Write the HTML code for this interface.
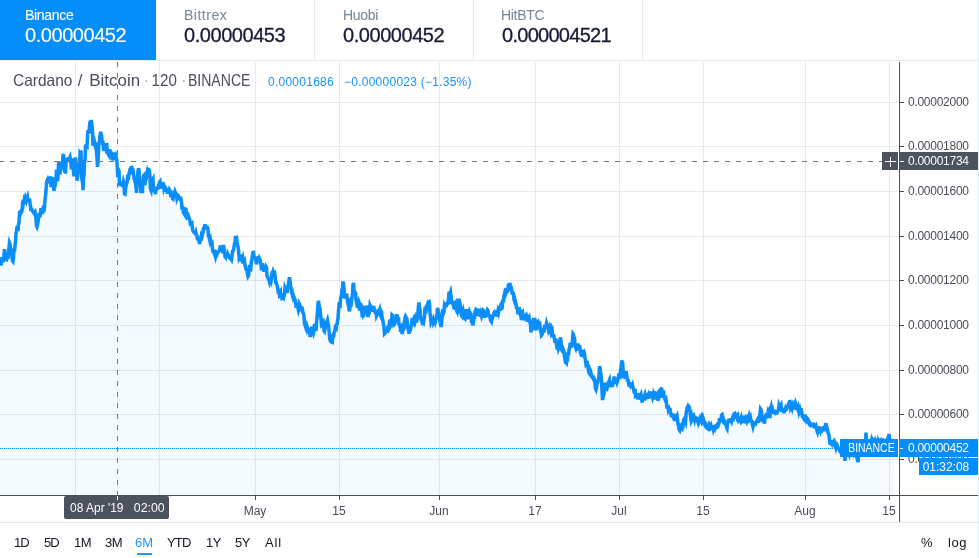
<!DOCTYPE html>
<html>
<head>
<meta charset="utf-8">
<title>Cardano / Bitcoin</title>
<style>
html,body{margin:0;padding:0;}
body{width:979px;height:558px;overflow:hidden;background:#fff;position:relative;font-family:"Liberation Sans",sans-serif;}
.abs{position:absolute;}
.tab .lbl,.tab .val,.lv,.tb,svg{will-change:transform;}
.tab{position:absolute;top:0;height:60px;box-sizing:border-box;}
.tab .lbl{position:absolute;top:6.5px;font-size:14px;letter-spacing:-0.3px;line-height:16px;color:#758696;white-space:nowrap;}
.tab .val{position:absolute;top:24px;font-size:20px;letter-spacing:-0.45px;line-height:22px;color:#161b33;-webkit-text-stroke:0.3px #161b33;white-space:nowrap;}
#t1{left:0;width:156px;background:#068dfc;}
#t1 .lbl,#t1 .val{color:#fff;-webkit-text-stroke:0.1px #fff;}
.vb{position:absolute;top:0;width:1px;height:60px;background:#e1ecf2;}
#legend{position:absolute;left:13px;top:70px;font-size:16.5px;line-height:20px;color:#4a4e5a;white-space:nowrap;transform-origin:0 0;transform:scaleX(0.92);}
.lv{position:absolute;top:74px;font-size:12px;letter-spacing:0.25px;line-height:16px;color:#1a92f5;white-space:nowrap;}
.tb{position:absolute;top:534.7px;font-size:13px;line-height:16px;color:#131722;white-space:nowrap;}
svg text{font-family:"Liberation Sans",sans-serif;}
</style>
</head>
<body>
<!-- exchange tabs -->
<div class="tab" id="t1"><div class="lbl" style="left:24.5px">Binance</div><div class="val" style="left:25px">0.00000452</div></div>
<div class="tab" style="left:156px;width:158px"><div class="lbl" style="left:28px;letter-spacing:0.5px">Bittrex</div><div class="val" style="left:28px">0.00000453</div></div>
<div class="tab" style="left:315px;width:158px"><div class="lbl" style="left:28px">Huobi</div><div class="val" style="left:28px">0.00000452</div></div>
<div class="tab" style="left:474px;width:168px"><div class="lbl" style="left:27px">HitBTC</div><div class="val" style="left:28px;letter-spacing:-0.72px">0.000004521</div></div>
<div class="vb" style="left:314px"></div>
<div class="vb" style="left:473px"></div>
<div class="vb" style="left:642px"></div>
<div class="abs" style="left:0;top:60px;width:979px;height:1px;background:#e3eaf0"></div>
<div class="abs" style="left:978px;top:0;width:1px;height:558px;background:#e3eaf0"></div>

<!-- chart -->
<svg class="abs" style="left:0;top:0" width="979" height="558" viewBox="0 0 979 558">
  <g id="grid" stroke="#e1ecf2" stroke-width="1" shape-rendering="crispEdges">
    <path d="M75.5,62V495 M159.5,62V495 M255.5,62V495 M339.5,62V495 M439.5,62V495 M535.5,62V495 M619.5,62V495 M703.5,62V495 M805.5,62V495 M889.5,62V495"/>
    <path d="M0,102.5H899 M0,146.5H899 M0,191.5H899 M0,236.5H899 M0,280.5H899 M0,325.5H899 M0,370.5H899 M0,414.5H899 M0,459.5H899"/>
  </g>
  <path d="M0.0,258.9 L0.5,262.1 L1.0,265.5 L1.5,261.8 L2.0,257.3 L2.5,259.3 L3.0,260.5 L3.5,262.1 L4.0,254.1 L4.5,249.3 L5.0,252.9 L5.5,254.8 L6.0,259.3 L6.5,259.5 L7.0,256.1 L7.5,254.1 L8.0,259.0 L8.5,252.7 L9.0,247.3 L9.5,242.7 L10.0,243.9 L10.5,247.9 L11.0,249.4 L11.5,252.5 L12.0,256.4 L12.5,260.9 L13.0,261.5 L13.5,257.9 L14.0,248.6 L14.5,251.9 L15.0,245.7 L15.5,241.8 L16.0,232.8 L16.5,231.3 L17.0,227.3 L17.5,227.0 L18.0,231.2 L18.5,224.5 L19.0,222.6 L19.5,213.4 L20.0,210.7 L20.5,213.2 L21.0,211.6 L21.5,211.9 L22.0,210.9 L22.5,204.5 L23.0,205.0 L23.5,199.4 L24.0,204.3 L24.5,199.2 L25.0,200.0 L25.5,197.7 L26.0,199.0 L26.5,194.9 L27.0,198.7 L27.5,197.2 L28.0,201.1 L28.5,201.1 L29.0,200.2 L29.5,198.4 L30.0,203.3 L30.5,205.5 L31.0,211.1 L31.5,208.2 L32.0,210.0 L32.5,211.3 L33.0,211.7 L33.5,212.3 L34.0,213.1 L34.5,212.3 L35.0,211.7 L35.5,214.3 L36.0,219.4 L36.5,225.6 L37.0,226.8 L37.5,224.9 L38.0,221.8 L38.5,218.9 L39.0,215.1 L39.5,215.3 L40.0,217.2 L40.5,212.1 L41.0,208.2 L41.5,214.3 L42.0,211.6 L42.5,212.3 L43.0,212.0 L43.5,205.4 L44.0,211.6 L44.5,207.1 L45.0,199.8 L45.5,196.1 L46.0,190.5 L46.5,182.9 L47.0,180.6 L47.5,179.6 L48.0,181.6 L48.5,181.1 L49.0,178.2 L49.5,181.2 L50.0,176.5 L50.5,182.0 L51.0,187.1 L51.5,185.3 L52.0,178.2 L52.5,178.4 L53.0,182.8 L53.5,185.9 L54.0,190.8 L54.5,182.3 L55.0,181.3 L55.5,182.4 L56.0,179.2 L56.5,169.6 L57.0,174.6 L57.5,181.1 L58.0,177.1 L58.5,164.3 L59.0,161.6 L59.5,163.7 L60.0,174.2 L60.5,170.0 L61.0,164.6 L61.5,169.4 L62.0,161.6 L62.5,166.9 L63.0,155.5 L63.5,154.0 L64.0,161.8 L64.5,170.8 L65.0,171.9 L65.5,171.9 L66.0,161.5 L66.5,161.4 L67.0,159.6 L67.5,157.9 L68.0,162.1 L68.5,157.4 L69.0,160.3 L69.5,158.0 L70.0,156.9 L70.5,159.9 L71.0,164.1 L71.5,169.4 L72.0,165.4 L72.5,165.5 L73.0,158.3 L73.5,171.4 L74.0,176.3 L74.5,169.2 L75.0,164.1 L75.5,157.4 L76.0,164.0 L76.5,168.0 L77.0,180.7 L77.5,177.5 L78.0,171.2 L78.5,163.0 L79.0,173.9 L79.5,169.0 L80.0,154.4 L80.5,155.4 L81.0,150.3 L81.5,176.0 L82.0,180.2 L82.5,181.5 L83.0,190.1 L83.5,179.1 L84.0,174.7 L84.5,159.5 L85.0,161.5 L85.5,146.0 L86.0,145.5 L86.5,146.4 L87.0,146.8 L87.5,137.1 L88.0,130.1 L88.5,132.8 L89.0,132.5 L89.5,125.9 L90.0,122.0 L90.5,121.5 L91.0,121.5 L91.5,121.5 L92.0,124.9 L92.5,130.7 L93.0,145.6 L93.5,143.8 L94.0,143.7 L94.5,142.2 L95.0,144.7 L95.5,143.8 L96.0,144.6 L96.5,151.6 L97.0,157.9 L97.5,166.8 L98.0,161.2 L98.5,151.7 L99.0,142.4 L99.5,139.8 L100.0,135.8 L100.5,133.3 L101.0,133.3 L101.5,135.2 L102.0,139.7 L102.5,142.7 L103.0,142.6 L103.5,147.7 L104.0,147.2 L104.5,148.3 L105.0,150.8 L105.5,147.2 L106.0,143.1 L106.5,148.4 L107.0,147.5 L107.5,152.5 L108.0,152.7 L108.5,154.8 L109.0,155.5 L109.5,149.1 L110.0,153.6 L110.5,152.5 L111.0,152.2 L111.5,153.2 L112.0,156.7 L112.5,158.8 L113.0,160.3 L113.5,154.4 L114.0,154.6 L114.5,152.5 L115.0,155.3 L115.5,158.4 L116.0,156.5 L116.5,158.3 L117.0,162.8 L117.5,171.3 L118.0,170.2 L118.5,170.0 L119.0,171.2 L119.5,182.7 L120.0,186.0 L120.5,183.0 L121.0,183.6 L121.5,183.9 L122.0,185.0 L122.5,184.6 L123.0,184.6 L123.5,181.6 L124.0,183.3 L124.5,193.7 L125.0,194.0 L125.5,189.9 L126.0,185.7 L126.5,183.8 L127.0,182.8 L127.5,178.2 L128.0,178.8 L128.5,178.5 L129.0,173.8 L129.5,171.5 L130.0,169.4 L130.5,167.9 L131.0,174.6 L131.5,165.9 L132.0,168.6 L132.5,168.9 L133.0,169.4 L133.5,172.8 L134.0,178.6 L134.5,179.4 L135.0,181.7 L135.5,183.0 L136.0,187.6 L136.5,192.8 L137.0,185.8 L137.5,177.6 L138.0,171.3 L138.5,168.2 L139.0,170.2 L139.5,181.2 L140.0,184.5 L140.5,185.0 L141.0,193.1 L141.5,189.0 L142.0,190.7 L142.5,190.9 L143.0,181.1 L143.5,176.0 L144.0,175.4 L144.5,181.6 L145.0,185.2 L145.5,176.3 L146.0,180.4 L146.5,176.0 L147.0,173.2 L147.5,170.7 L148.0,171.9 L148.5,168.1 L149.0,169.9 L149.5,171.0 L150.0,178.7 L150.5,189.2 L151.0,190.4 L151.5,185.3 L152.0,177.8 L152.5,179.9 L153.0,179.0 L153.5,190.4 L154.0,190.6 L154.5,186.7 L155.0,192.3 L155.5,194.0 L156.0,187.2 L156.5,189.2 L157.0,188.8 L157.5,188.6 L158.0,188.0 L158.5,184.9 L159.0,184.5 L159.5,182.3 L160.0,181.6 L160.5,187.1 L161.0,186.9 L161.5,187.1 L162.0,182.4 L162.5,183.9 L163.0,187.2 L163.5,183.8 L164.0,188.2 L164.5,186.8 L165.0,188.2 L165.5,187.9 L166.0,188.9 L166.5,192.0 L167.0,189.8 L167.5,193.8 L168.0,190.3 L168.5,188.6 L169.0,192.1 L169.5,189.7 L170.0,190.5 L170.5,194.2 L171.0,196.9 L171.5,191.1 L172.0,193.9 L172.5,198.6 L173.0,199.0 L173.5,196.0 L174.0,193.8 L174.5,193.7 L175.0,191.6 L175.5,192.9 L176.0,193.8 L176.5,194.8 L177.0,198.8 L177.5,197.6 L178.0,194.5 L178.5,199.4 L179.0,197.0 L179.5,197.7 L180.0,199.2 L180.5,199.7 L181.0,199.2 L181.5,201.8 L182.0,209.6 L182.5,207.3 L183.0,208.3 L183.5,212.5 L184.0,213.7 L184.5,214.4 L185.0,215.2 L185.5,209.1 L186.0,209.3 L186.5,212.0 L187.0,214.4 L187.5,217.6 L188.0,217.3 L188.5,216.3 L189.0,217.9 L189.5,218.9 L190.0,221.5 L190.5,224.6 L191.0,224.6 L191.5,224.0 L192.0,223.5 L192.5,228.2 L193.0,231.0 L193.5,231.8 L194.0,232.2 L194.5,232.8 L195.0,232.5 L195.5,235.0 L196.0,233.0 L196.5,235.1 L197.0,235.7 L197.5,240.2 L198.0,238.6 L198.5,239.2 L199.0,240.8 L199.5,243.9 L200.0,240.4 L200.5,238.5 L201.0,240.3 L201.5,235.6 L202.0,236.4 L202.5,233.5 L203.0,232.5 L203.5,227.1 L204.0,229.8 L204.5,227.2 L205.0,224.2 L205.5,229.1 L206.0,227.1 L206.5,226.9 L207.0,227.1 L207.5,227.2 L208.0,229.8 L208.5,236.1 L209.0,236.4 L209.5,239.2 L210.0,241.4 L210.5,239.8 L211.0,242.6 L211.5,243.3 L212.0,242.8 L212.5,248.6 L213.0,251.6 L213.5,252.3 L214.0,251.2 L214.5,249.7 L215.0,255.0 L215.5,256.9 L216.0,254.8 L216.5,257.2 L217.0,252.6 L217.5,253.0 L218.0,252.4 L218.5,251.5 L219.0,250.8 L219.5,250.6 L220.0,247.3 L220.5,247.5 L221.0,247.2 L221.5,247.6 L222.0,248.9 L222.5,250.2 L223.0,253.2 L223.5,244.8 L224.0,249.0 L224.5,250.0 L225.0,256.6 L225.5,257.2 L226.0,251.8 L226.5,254.8 L227.0,254.1 L227.5,257.8 L228.0,254.9 L228.5,256.2 L229.0,257.0 L229.5,257.8 L230.0,257.3 L230.5,254.8 L231.0,258.6 L231.5,259.5 L232.0,256.1 L232.5,251.2 L233.0,250.8 L233.5,250.2 L234.0,247.1 L234.5,243.7 L235.0,243.7 L235.5,235.9 L236.0,237.9 L236.5,237.6 L237.0,241.3 L237.5,244.3 L238.0,246.6 L238.5,249.7 L239.0,256.7 L239.5,255.5 L240.0,255.7 L240.5,261.2 L241.0,259.2 L241.5,254.8 L242.0,258.4 L242.5,257.3 L243.0,263.3 L243.5,260.4 L244.0,261.8 L244.5,260.9 L245.0,265.6 L245.5,266.0 L246.0,269.4 L246.5,270.2 L247.0,270.3 L247.5,274.3 L248.0,276.5 L248.5,275.7 L249.0,271.3 L249.5,267.5 L250.0,267.9 L250.5,271.7 L251.0,265.8 L251.5,261.1 L252.0,258.2 L252.5,254.8 L253.0,252.5 L253.5,252.4 L254.0,257.0 L254.5,257.7 L255.0,257.9 L255.5,256.4 L256.0,261.5 L256.5,264.3 L257.0,261.8 L257.5,258.3 L258.0,257.9 L258.5,258.9 L259.0,257.9 L259.5,259.2 L260.0,259.5 L260.5,262.4 L261.0,264.0 L261.5,270.4 L262.0,265.3 L262.5,265.2 L263.0,269.6 L263.5,268.0 L264.0,271.8 L264.5,270.1 L265.0,270.1 L265.5,269.0 L266.0,266.4 L266.5,267.1 L267.0,276.1 L267.5,276.7 L268.0,277.5 L268.5,279.4 L269.0,279.8 L269.5,281.8 L270.0,280.0 L270.5,280.0 L271.0,281.2 L271.5,277.6 L272.0,272.8 L272.5,272.7 L273.0,271.2 L273.5,272.7 L274.0,271.9 L274.5,272.0 L275.0,275.0 L275.5,282.2 L276.0,282.4 L276.5,284.1 L277.0,285.2 L277.5,287.2 L278.0,290.5 L278.5,293.9 L279.0,288.6 L279.5,294.6 L280.0,293.9 L280.5,292.7 L281.0,298.2 L281.5,295.1 L282.0,298.5 L282.5,298.3 L283.0,293.3 L283.5,295.0 L284.0,296.4 L284.5,294.5 L285.0,288.0 L285.5,289.2 L286.0,289.7 L286.5,287.2 L287.0,293.1 L287.5,289.6 L288.0,286.1 L288.5,283.5 L289.0,280.0 L289.5,277.3 L290.0,280.4 L290.5,285.4 L291.0,287.4 L291.5,291.3 L292.0,290.9 L292.5,295.5 L293.0,295.1 L293.5,298.0 L294.0,297.1 L294.5,298.4 L295.0,301.4 L295.5,299.1 L296.0,307.6 L296.5,305.4 L297.0,304.6 L297.5,302.9 L298.0,308.2 L298.5,310.4 L299.0,308.9 L299.5,304.3 L300.0,305.4 L300.5,309.3 L301.0,308.9 L301.5,307.7 L302.0,307.8 L302.5,309.5 L303.0,313.0 L303.5,313.5 L304.0,316.1 L304.5,323.6 L305.0,325.1 L305.5,321.2 L306.0,323.7 L306.5,325.0 L307.0,325.8 L307.5,329.8 L308.0,328.8 L308.5,329.1 L309.0,329.8 L309.5,331.5 L310.0,335.5 L310.5,335.5 L311.0,328.8 L311.5,328.3 L312.0,326.7 L312.5,330.8 L313.0,330.6 L313.5,332.5 L314.0,330.6 L314.5,324.0 L315.0,328.3 L315.5,329.6 L316.0,331.0 L316.5,322.4 L317.0,318.3 L317.5,310.7 L318.0,303.9 L318.5,300.7 L319.0,305.1 L319.5,307.1 L320.0,308.6 L320.5,313.9 L321.0,318.9 L321.5,325.3 L322.0,324.9 L322.5,318.7 L323.0,320.0 L323.5,324.8 L324.0,330.7 L324.5,331.4 L325.0,329.0 L325.5,327.2 L326.0,322.3 L326.5,321.8 L327.0,321.7 L327.5,320.1 L328.0,323.0 L328.5,325.3 L329.0,330.1 L329.5,337.1 L330.0,339.7 L330.5,341.3 L331.0,341.6 L331.5,338.3 L332.0,338.4 L332.5,339.4 L333.0,334.0 L333.5,337.5 L334.0,333.1 L334.5,332.2 L335.0,330.0 L335.5,324.8 L336.0,331.5 L336.5,323.6 L337.0,325.4 L337.5,320.6 L338.0,318.7 L338.5,310.8 L339.0,305.6 L339.5,306.2 L340.0,307.9 L340.5,299.4 L341.0,296.7 L341.5,296.5 L342.0,289.4 L342.5,288.4 L343.0,281.5 L343.5,283.8 L344.0,288.7 L344.5,295.6 L345.0,298.4 L345.5,295.3 L346.0,298.0 L346.5,293.6 L347.0,297.0 L347.5,301.3 L348.0,303.6 L348.5,302.8 L349.0,309.7 L349.5,311.3 L350.0,307.0 L350.5,304.2 L351.0,306.7 L351.5,300.8 L352.0,297.6 L352.5,292.9 L353.0,284.7 L353.5,282.9 L354.0,288.9 L354.5,292.6 L355.0,294.6 L355.5,291.5 L356.0,299.7 L356.5,302.3 L357.0,305.0 L357.5,307.6 L358.0,303.9 L358.5,302.3 L359.0,304.9 L359.5,310.6 L360.0,304.3 L360.5,305.5 L361.0,305.3 L361.5,308.9 L362.0,314.0 L362.5,313.4 L363.0,311.9 L363.5,315.7 L364.0,315.1 L364.5,309.6 L365.0,312.0 L365.5,308.3 L366.0,308.5 L366.5,305.5 L367.0,313.0 L367.5,311.7 L368.0,317.2 L368.5,310.3 L369.0,314.4 L369.5,310.9 L370.0,305.5 L370.5,306.7 L371.0,309.3 L371.5,307.3 L372.0,307.9 L372.5,310.3 L373.0,310.4 L373.5,306.0 L374.0,307.6 L374.5,310.6 L375.0,311.6 L375.5,313.8 L376.0,310.5 L376.5,315.7 L377.0,314.6 L377.5,312.7 L378.0,313.6 L378.5,313.4 L379.0,311.0 L379.5,309.7 L380.0,314.1 L380.5,315.3 L381.0,310.8 L381.5,311.6 L382.0,316.8 L382.5,319.0 L383.0,321.3 L383.5,324.1 L384.0,326.9 L384.5,333.7 L385.0,333.2 L385.5,332.2 L386.0,331.6 L386.5,331.4 L387.0,330.4 L387.5,330.7 L388.0,325.8 L388.5,327.4 L389.0,325.9 L389.5,321.0 L390.0,320.7 L390.5,325.9 L391.0,324.9 L391.5,321.0 L392.0,315.0 L392.5,315.5 L393.0,315.7 L393.5,317.8 L394.0,324.7 L394.5,324.3 L395.0,323.2 L395.5,319.8 L396.0,316.9 L396.5,316.2 L397.0,314.1 L397.5,320.1 L398.0,318.6 L398.5,318.6 L399.0,324.3 L399.5,325.5 L400.0,323.6 L400.5,330.2 L401.0,330.2 L401.5,328.7 L402.0,332.5 L402.5,332.4 L403.0,329.3 L403.5,329.6 L404.0,329.0 L404.5,323.6 L405.0,317.8 L405.5,316.2 L406.0,317.0 L406.5,319.8 L407.0,319.6 L407.5,323.6 L408.0,328.5 L408.5,330.7 L409.0,333.8 L409.5,327.4 L410.0,329.8 L410.5,329.8 L411.0,327.4 L411.5,324.1 L412.0,319.8 L412.5,319.9 L413.0,323.0 L413.5,320.8 L414.0,322.2 L414.5,319.9 L415.0,321.2 L415.5,318.6 L416.0,320.3 L416.5,319.2 L417.0,319.7 L417.5,317.2 L418.0,311.7 L418.5,305.6 L419.0,302.4 L419.5,307.8 L420.0,309.1 L420.5,315.0 L421.0,319.6 L421.5,320.9 L422.0,317.8 L422.5,322.2 L423.0,322.1 L423.5,322.7 L424.0,319.8 L424.5,316.5 L425.0,307.0 L425.5,309.8 L426.0,310.3 L426.5,304.8 L427.0,307.0 L427.5,304.9 L428.0,302.5 L428.5,301.6 L429.0,301.4 L429.5,303.6 L430.0,312.7 L430.5,316.4 L431.0,322.5 L431.5,321.4 L432.0,320.3 L432.5,319.9 L433.0,318.9 L433.5,322.9 L434.0,321.9 L434.5,323.6 L435.0,318.6 L435.5,321.0 L436.0,319.1 L436.5,318.2 L437.0,313.7 L437.5,307.9 L438.0,310.3 L438.5,311.9 L439.0,315.4 L439.5,316.9 L440.0,321.6 L440.5,323.9 L441.0,327.0 L441.5,324.2 L442.0,318.4 L442.5,312.0 L443.0,312.4 L443.5,313.1 L444.0,311.8 L444.5,305.4 L445.0,306.4 L445.5,306.4 L446.0,305.8 L446.5,305.6 L447.0,303.3 L447.5,303.3 L448.0,303.3 L448.5,298.6 L449.0,293.0 L449.5,292.8 L450.0,293.3 L450.5,291.9 L451.0,295.9 L451.5,302.5 L452.0,302.6 L452.5,303.5 L453.0,300.6 L453.5,304.9 L454.0,309.2 L454.5,306.4 L455.0,304.8 L455.5,303.8 L456.0,309.2 L456.5,310.4 L457.0,309.4 L457.5,310.9 L458.0,308.1 L458.5,304.5 L459.0,298.7 L459.5,302.9 L460.0,308.1 L460.5,307.2 L461.0,312.3 L461.5,315.6 L462.0,316.3 L462.5,312.3 L463.0,310.8 L463.5,314.4 L464.0,316.3 L464.5,317.8 L465.0,318.4 L465.5,315.6 L466.0,313.6 L466.5,309.1 L467.0,313.9 L467.5,319.3 L468.0,315.5 L468.5,313.9 L469.0,316.1 L469.5,316.5 L470.0,312.6 L470.5,313.8 L471.0,314.2 L471.5,323.1 L472.0,321.0 L472.5,323.9 L473.0,324.0 L473.5,321.0 L474.0,318.0 L474.5,317.7 L475.0,311.5 L475.5,310.8 L476.0,309.3 L476.5,309.6 L477.0,316.1 L477.5,309.2 L478.0,311.8 L478.5,308.6 L479.0,313.7 L479.5,316.0 L480.0,312.5 L480.5,316.9 L481.0,314.2 L481.5,316.0 L482.0,314.2 L482.5,311.1 L483.0,310.0 L483.5,310.5 L484.0,313.0 L484.5,313.1 L485.0,317.8 L485.5,315.0 L486.0,313.3 L486.5,312.2 L487.0,311.6 L487.5,309.9 L488.0,310.5 L488.5,315.7 L489.0,316.1 L489.5,316.0 L490.0,317.5 L490.5,320.3 L491.0,320.7 L491.5,321.5 L492.0,318.8 L492.5,318.2 L493.0,315.4 L493.5,315.2 L494.0,312.6 L494.5,311.9 L495.0,312.6 L495.5,312.8 L496.0,312.8 L496.5,312.2 L497.0,316.5 L497.5,314.3 L498.0,311.2 L498.5,312.7 L499.0,310.0 L499.5,308.6 L500.0,310.8 L500.5,307.1 L501.0,305.7 L501.5,307.6 L502.0,309.5 L502.5,302.7 L503.0,300.7 L503.5,302.3 L504.0,295.5 L504.5,294.0 L505.0,291.4 L505.5,291.6 L506.0,288.0 L506.5,292.1 L507.0,290.9 L507.5,291.0 L508.0,289.0 L508.5,283.8 L509.0,285.4 L509.5,283.0 L510.0,286.1 L510.5,285.5 L511.0,286.9 L511.5,288.2 L512.0,292.2 L512.5,294.7 L513.0,292.0 L513.5,293.9 L514.0,299.4 L514.5,301.1 L515.0,300.1 L515.5,302.4 L516.0,303.9 L516.5,307.9 L517.0,308.0 L517.5,309.4 L518.0,314.3 L518.5,309.6 L519.0,309.3 L519.5,308.9 L520.0,310.5 L520.5,315.4 L521.0,316.2 L521.5,319.9 L522.0,312.4 L522.5,311.9 L523.0,317.4 L523.5,318.8 L524.0,318.9 L524.5,318.8 L525.0,316.6 L525.5,315.4 L526.0,314.9 L526.5,317.4 L527.0,316.5 L527.5,317.8 L528.0,321.7 L528.5,317.4 L529.0,316.8 L529.5,321.2 L530.0,322.5 L530.5,324.5 L531.0,332.3 L531.5,329.6 L532.0,323.7 L532.5,323.3 L533.0,322.3 L533.5,318.0 L534.0,324.1 L534.5,329.2 L535.0,325.9 L535.5,330.4 L536.0,327.2 L536.5,323.3 L537.0,324.5 L537.5,322.0 L538.0,321.6 L538.5,323.3 L539.0,329.4 L539.5,321.5 L540.0,325.8 L540.5,330.8 L541.0,332.3 L541.5,335.4 L542.0,334.8 L542.5,332.8 L543.0,330.8 L543.5,327.9 L544.0,332.5 L544.5,327.2 L545.0,327.5 L545.5,326.6 L546.0,325.4 L546.5,323.0 L547.0,324.7 L547.5,326.6 L548.0,327.8 L548.5,330.4 L549.0,329.2 L549.5,327.6 L550.0,329.5 L550.5,331.4 L551.0,329.0 L551.5,327.0 L552.0,327.9 L552.5,334.1 L553.0,337.3 L553.5,334.5 L554.0,336.3 L554.5,339.5 L555.0,342.7 L555.5,339.7 L556.0,339.9 L556.5,344.7 L557.0,347.7 L557.5,349.4 L558.0,345.4 L558.5,348.5 L559.0,347.1 L559.5,344.2 L560.0,339.6 L560.5,337.4 L561.0,340.8 L561.5,348.6 L562.0,350.3 L562.5,351.4 L563.0,351.9 L563.5,350.2 L564.0,351.6 L564.5,357.0 L565.0,358.9 L565.5,362.4 L566.0,362.6 L566.5,363.2 L567.0,360.4 L567.5,360.1 L568.0,352.1 L568.5,355.7 L569.0,349.3 L569.5,349.0 L570.0,344.6 L570.5,344.6 L571.0,342.9 L571.5,347.5 L572.0,345.2 L572.5,338.9 L573.0,333.8 L573.5,334.5 L574.0,337.2 L574.5,338.1 L575.0,344.7 L575.5,346.9 L576.0,348.3 L576.5,346.8 L577.0,346.3 L577.5,346.5 L578.0,343.5 L578.5,348.5 L579.0,350.3 L579.5,345.2 L580.0,348.2 L580.5,352.6 L581.0,352.7 L581.5,356.5 L582.0,354.5 L582.5,355.0 L583.0,352.2 L583.5,352.6 L584.0,351.9 L584.5,353.2 L585.0,357.5 L585.5,360.7 L586.0,364.3 L586.5,363.6 L587.0,360.9 L587.5,364.3 L588.0,364.8 L588.5,371.1 L589.0,373.0 L589.5,373.7 L590.0,369.7 L590.5,370.8 L591.0,374.4 L591.5,374.6 L592.0,376.6 L592.5,377.6 L593.0,378.1 L593.5,379.1 L594.0,378.4 L594.5,379.7 L595.0,383.9 L595.5,388.7 L596.0,389.7 L596.5,387.7 L597.0,384.2 L597.5,382.5 L598.0,380.5 L598.5,379.3 L599.0,376.0 L599.5,366.3 L600.0,367.5 L600.5,371.4 L601.0,374.6 L601.5,381.9 L602.0,390.5 L602.5,400.1 L603.0,396.9 L603.5,395.6 L604.0,394.1 L604.5,389.5 L605.0,382.6 L605.5,386.2 L606.0,388.6 L606.5,388.2 L607.0,388.7 L607.5,386.7 L608.0,384.1 L608.5,384.5 L609.0,381.1 L609.5,379.9 L610.0,384.0 L610.5,385.1 L611.0,385.2 L611.5,381.5 L612.0,385.2 L612.5,386.9 L613.0,383.0 L613.5,381.9 L614.0,376.4 L614.5,379.9 L615.0,377.7 L615.5,380.6 L616.0,383.7 L616.5,380.7 L617.0,382.5 L617.5,381.1 L618.0,378.6 L618.5,376.5 L619.0,373.4 L619.5,377.4 L620.0,377.5 L620.5,369.9 L621.0,369.6 L621.5,363.3 L622.0,360.3 L622.5,369.5 L623.0,368.4 L623.5,376.6 L624.0,377.0 L624.5,376.3 L625.0,373.5 L625.5,372.8 L626.0,371.1 L626.5,374.4 L627.0,376.8 L627.5,381.2 L628.0,379.2 L628.5,382.9 L629.0,386.6 L629.5,384.5 L630.0,385.4 L630.5,383.7 L631.0,384.0 L631.5,386.2 L632.0,386.1 L632.5,384.9 L633.0,387.2 L633.5,389.4 L634.0,391.2 L634.5,393.7 L635.0,388.8 L635.5,396.2 L636.0,395.9 L636.5,394.6 L637.0,394.7 L637.5,397.1 L638.0,399.4 L638.5,397.1 L639.0,397.5 L639.5,392.9 L640.0,395.3 L640.5,395.4 L641.0,394.3 L641.5,397.5 L642.0,401.1 L642.5,400.9 L643.0,395.6 L643.5,400.2 L644.0,396.8 L644.5,396.3 L645.0,394.6 L645.5,396.7 L646.0,398.0 L646.5,397.4 L647.0,396.1 L647.5,395.7 L648.0,394.8 L648.5,398.6 L649.0,396.0 L649.5,396.0 L650.0,396.0 L650.5,394.4 L651.0,395.1 L651.5,391.6 L652.0,395.4 L652.5,397.3 L653.0,395.5 L653.5,399.6 L654.0,394.2 L654.5,395.4 L655.0,395.4 L655.5,392.8 L656.0,393.0 L656.5,396.7 L657.0,396.3 L657.5,397.0 L658.0,400.7 L658.5,398.3 L659.0,391.4 L659.5,390.8 L660.0,394.8 L660.5,393.5 L661.0,389.9 L661.5,387.6 L662.0,392.1 L662.5,397.8 L663.0,392.5 L663.5,390.3 L664.0,396.7 L664.5,397.5 L665.0,399.5 L665.5,400.7 L666.0,399.8 L666.5,403.8 L667.0,407.4 L667.5,407.9 L668.0,405.8 L668.5,410.0 L669.0,409.0 L669.5,411.1 L670.0,408.0 L670.5,411.8 L671.0,414.2 L671.5,417.2 L672.0,415.2 L672.5,415.9 L673.0,413.6 L673.5,417.2 L674.0,418.9 L674.5,420.8 L675.0,417.6 L675.5,414.0 L676.0,416.0 L676.5,416.8 L677.0,415.8 L677.5,419.6 L678.0,424.1 L678.5,425.5 L679.0,429.4 L679.5,430.1 L680.0,427.5 L680.5,428.6 L681.0,427.1 L681.5,428.5 L682.0,428.9 L682.5,425.8 L683.0,426.1 L683.5,419.9 L684.0,419.2 L684.5,423.4 L685.0,421.9 L685.5,422.8 L686.0,414.3 L686.5,411.4 L687.0,408.8 L687.5,409.4 L688.0,408.6 L688.5,405.9 L689.0,406.5 L689.5,408.6 L690.0,411.9 L690.5,416.4 L691.0,415.4 L691.5,421.0 L692.0,420.0 L692.5,415.3 L693.0,415.9 L693.5,415.4 L694.0,418.1 L694.5,419.8 L695.0,417.2 L695.5,419.7 L696.0,420.1 L696.5,418.6 L697.0,419.1 L697.5,420.7 L698.0,418.7 L698.5,417.0 L699.0,422.0 L699.5,420.8 L700.0,419.1 L700.5,420.9 L701.0,417.5 L701.5,419.6 L702.0,417.5 L702.5,419.1 L703.0,417.5 L703.5,418.9 L704.0,423.5 L704.5,423.4 L705.0,421.2 L705.5,427.3 L706.0,424.9 L706.5,428.9 L707.0,426.5 L707.5,423.5 L708.0,430.0 L708.5,427.6 L709.0,429.2 L709.5,430.9 L710.0,425.9 L710.5,426.9 L711.0,425.8 L711.5,428.2 L712.0,428.0 L712.5,425.2 L713.0,427.0 L713.5,429.6 L714.0,428.2 L714.5,428.9 L715.0,426.3 L715.5,425.9 L716.0,426.3 L716.5,425.6 L717.0,427.3 L717.5,426.9 L718.0,426.1 L718.5,424.9 L719.0,422.7 L719.5,418.1 L720.0,420.2 L720.5,421.9 L721.0,418.5 L721.5,415.1 L722.0,414.7 L722.5,419.5 L723.0,420.7 L723.5,419.6 L724.0,421.6 L724.5,421.4 L725.0,423.1 L725.5,422.9 L726.0,423.1 L726.5,427.8 L727.0,428.7 L727.5,422.8 L728.0,421.4 L728.5,421.8 L729.0,421.6 L729.5,418.9 L730.0,422.5 L730.5,418.1 L731.0,421.0 L731.5,421.9 L732.0,419.8 L732.5,418.1 L733.0,418.7 L733.5,419.0 L734.0,413.9 L734.5,413.6 L735.0,417.1 L735.5,417.2 L736.0,416.5 L736.5,414.7 L737.0,414.5 L737.5,414.2 L738.0,421.8 L738.5,416.6 L739.0,420.7 L739.5,420.2 L740.0,419.5 L740.5,419.2 L741.0,417.9 L741.5,422.1 L742.0,421.7 L742.5,420.4 L743.0,419.9 L743.5,420.5 L744.0,417.9 L744.5,418.2 L745.0,417.6 L745.5,420.1 L746.0,421.0 L746.5,415.7 L747.0,417.1 L747.5,420.6 L748.0,417.2 L748.5,416.0 L749.0,420.5 L749.5,420.0 L750.0,419.2 L750.5,417.8 L751.0,420.7 L751.5,420.8 L752.0,423.0 L752.5,424.9 L753.0,426.9 L753.5,424.9 L754.0,423.4 L754.5,423.8 L755.0,423.5 L755.5,423.8 L756.0,422.2 L756.5,421.7 L757.0,420.4 L757.5,419.5 L758.0,420.5 L758.5,422.9 L759.0,418.6 L759.5,416.4 L760.0,412.9 L760.5,408.7 L761.0,409.4 L761.5,411.5 L762.0,417.5 L762.5,422.0 L763.0,419.3 L763.5,421.0 L764.0,421.4 L764.5,423.5 L765.0,416.8 L765.5,416.0 L766.0,416.3 L766.5,413.1 L767.0,416.3 L767.5,415.8 L768.0,412.5 L768.5,409.8 L769.0,410.3 L769.5,416.6 L770.0,416.6 L770.5,408.1 L771.0,406.6 L771.5,410.5 L772.0,410.7 L772.5,409.7 L773.0,412.2 L773.5,412.2 L774.0,412.7 L774.5,413.0 L775.0,409.7 L775.5,413.4 L776.0,410.9 L776.5,413.2 L777.0,413.1 L777.5,411.3 L778.0,410.7 L778.5,409.9 L779.0,405.4 L779.5,406.7 L780.0,409.0 L780.5,405.2 L781.0,404.5 L781.5,409.9 L782.0,411.9 L782.5,407.6 L783.0,410.4 L783.5,410.7 L784.0,413.1 L784.5,411.0 L785.0,410.2 L785.5,408.5 L786.0,409.8 L786.5,409.5 L787.0,407.9 L787.5,407.4 L788.0,405.9 L788.5,408.0 L789.0,404.8 L789.5,401.8 L790.0,401.7 L790.5,406.7 L791.0,405.4 L791.5,407.5 L792.0,408.8 L792.5,406.6 L793.0,408.5 L793.5,408.3 L794.0,406.8 L794.5,404.7 L795.0,405.7 L795.5,403.5 L796.0,405.1 L796.5,405.3 L797.0,407.9 L797.5,409.0 L798.0,407.5 L798.5,410.4 L799.0,412.7 L799.5,411.3 L800.0,409.5 L800.5,411.5 L801.0,408.5 L801.5,410.4 L802.0,413.7 L802.5,417.7 L803.0,415.2 L803.5,418.1 L804.0,419.3 L804.5,419.8 L805.0,414.5 L805.5,418.2 L806.0,418.6 L806.5,420.4 L807.0,419.6 L807.5,418.7 L808.0,419.3 L808.5,422.8 L809.0,423.6 L809.5,422.5 L810.0,423.4 L810.5,425.0 L811.0,425.6 L811.5,425.2 L812.0,424.4 L812.5,424.3 L813.0,425.1 L813.5,425.7 L814.0,424.6 L814.5,425.0 L815.0,428.5 L815.5,426.8 L816.0,425.9 L816.5,427.7 L817.0,431.0 L817.5,432.3 L818.0,430.2 L818.5,428.3 L819.0,428.4 L819.5,427.9 L820.0,428.3 L820.5,430.4 L821.0,428.7 L821.5,428.5 L822.0,429.3 L822.5,430.1 L823.0,429.3 L823.5,429.0 L824.0,427.3 L824.5,426.7 L825.0,428.0 L825.5,426.8 L826.0,423.1 L826.5,427.5 L827.0,427.5 L827.5,429.4 L828.0,433.1 L828.5,433.5 L829.0,435.1 L829.5,440.0 L830.0,443.3 L830.5,443.6 L831.0,441.3 L831.5,441.5 L832.0,442.9 L832.5,441.0 L833.0,444.7 L833.5,443.0 L834.0,444.1 L834.5,442.7 L835.0,444.6 L835.5,445.2 L836.0,447.4 L836.5,445.5 L837.0,446.6 L837.5,450.0 L838.0,447.4 L838.5,448.6 L839.0,449.5 L839.5,448.8 L840.0,449.0 L840.5,451.7 L841.0,452.7 L841.5,452.6 L842.0,452.3 L842.5,450.2 L843.0,451.1 L843.5,454.2 L844.0,454.6 L844.5,451.5 L845.0,461.0 L845.5,450.1 L846.0,451.5 L846.5,451.0 L847.0,451.0 L847.5,452.0 L848.0,453.2 L848.5,452.7 L849.0,453.9 L849.5,450.5 L850.0,451.7 L850.5,452.3 L851.0,449.8 L851.5,452.7 L852.0,450.0 L852.5,449.0 L853.0,454.6 L853.5,455.1 L854.0,454.2 L854.5,455.3 L855.0,455.6 L855.5,452.5 L856.0,453.6 L856.5,455.6 L857.0,454.3 L857.5,454.3 L858.0,462.5 L858.5,454.3 L859.0,452.5 L859.5,451.4 L860.0,449.7 L860.5,448.8 L861.0,449.6 L861.5,449.9 L862.0,448.3 L862.5,446.1 L863.0,446.7 L863.5,446.4 L864.0,447.0 L864.5,444.2 L865.0,442.5 L865.5,442.5 L866.0,432.5 L866.5,442.5 L867.0,442.3 L867.5,441.3 L868.0,441.5 L868.5,443.6 L869.0,444.4 L869.5,445.3 L870.0,441.7 L870.5,443.5 L871.0,441.8 L871.5,443.1 L872.0,439.8 L872.5,441.1 L873.0,440.6 L873.5,443.4 L874.0,443.0 L874.5,444.4 L875.0,442.5 L875.5,445.0 L876.0,442.7 L876.5,445.0 L877.0,442.8 L877.5,441.1 L878.0,443.1 L878.5,442.2 L879.0,442.3 L879.5,440.3 L880.0,440.7 L880.5,441.5 L881.0,440.6 L881.5,441.7 L882.0,438.6 L882.5,441.6 L883.0,441.1 L883.5,443.6 L884.0,442.2 L884.5,441.1 L885.0,441.0 L885.5,441.8 L886.0,442.5 L886.5,441.2 L887.0,440.0 L887.5,441.2 L888.0,442.2 L888.5,438.6 L889.0,434.0 L889.5,438.4 L890.0,442.8 L890.5,444.5 L891.0,444.6 L891.5,444.4 L892.0,442.2 L892.5,444.8 L893.0,443.9 L895,495 L0,495 Z" fill="#2196f3" fill-opacity="0.048" stroke="none"/>
  <path d="M0.0,258.9 L0.5,262.1 L1.0,265.5 L1.5,261.8 L2.0,257.3 L2.5,259.3 L3.0,260.5 L3.5,262.1 L4.0,254.1 L4.5,249.3 L5.0,252.9 L5.5,254.8 L6.0,259.3 L6.5,259.5 L7.0,256.1 L7.5,254.1 L8.0,259.0 L8.5,252.7 L9.0,247.3 L9.5,242.7 L10.0,243.9 L10.5,247.9 L11.0,249.4 L11.5,252.5 L12.0,256.4 L12.5,260.9 L13.0,261.5 L13.5,257.9 L14.0,248.6 L14.5,251.9 L15.0,245.7 L15.5,241.8 L16.0,232.8 L16.5,231.3 L17.0,227.3 L17.5,227.0 L18.0,231.2 L18.5,224.5 L19.0,222.6 L19.5,213.4 L20.0,210.7 L20.5,213.2 L21.0,211.6 L21.5,211.9 L22.0,210.9 L22.5,204.5 L23.0,205.0 L23.5,199.4 L24.0,204.3 L24.5,199.2 L25.0,200.0 L25.5,197.7 L26.0,199.0 L26.5,194.9 L27.0,198.7 L27.5,197.2 L28.0,201.1 L28.5,201.1 L29.0,200.2 L29.5,198.4 L30.0,203.3 L30.5,205.5 L31.0,211.1 L31.5,208.2 L32.0,210.0 L32.5,211.3 L33.0,211.7 L33.5,212.3 L34.0,213.1 L34.5,212.3 L35.0,211.7 L35.5,214.3 L36.0,219.4 L36.5,225.6 L37.0,226.8 L37.5,224.9 L38.0,221.8 L38.5,218.9 L39.0,215.1 L39.5,215.3 L40.0,217.2 L40.5,212.1 L41.0,208.2 L41.5,214.3 L42.0,211.6 L42.5,212.3 L43.0,212.0 L43.5,205.4 L44.0,211.6 L44.5,207.1 L45.0,199.8 L45.5,196.1 L46.0,190.5 L46.5,182.9 L47.0,180.6 L47.5,179.6 L48.0,181.6 L48.5,181.1 L49.0,178.2 L49.5,181.2 L50.0,176.5 L50.5,182.0 L51.0,187.1 L51.5,185.3 L52.0,178.2 L52.5,178.4 L53.0,182.8 L53.5,185.9 L54.0,190.8 L54.5,182.3 L55.0,181.3 L55.5,182.4 L56.0,179.2 L56.5,169.6 L57.0,174.6 L57.5,181.1 L58.0,177.1 L58.5,164.3 L59.0,161.6 L59.5,163.7 L60.0,174.2 L60.5,170.0 L61.0,164.6 L61.5,169.4 L62.0,161.6 L62.5,166.9 L63.0,155.5 L63.5,154.0 L64.0,161.8 L64.5,170.8 L65.0,171.9 L65.5,171.9 L66.0,161.5 L66.5,161.4 L67.0,159.6 L67.5,157.9 L68.0,162.1 L68.5,157.4 L69.0,160.3 L69.5,158.0 L70.0,156.9 L70.5,159.9 L71.0,164.1 L71.5,169.4 L72.0,165.4 L72.5,165.5 L73.0,158.3 L73.5,171.4 L74.0,176.3 L74.5,169.2 L75.0,164.1 L75.5,157.4 L76.0,164.0 L76.5,168.0 L77.0,180.7 L77.5,177.5 L78.0,171.2 L78.5,163.0 L79.0,173.9 L79.5,169.0 L80.0,154.4 L80.5,155.4 L81.0,150.3 L81.5,176.0 L82.0,180.2 L82.5,181.5 L83.0,190.1 L83.5,179.1 L84.0,174.7 L84.5,159.5 L85.0,161.5 L85.5,146.0 L86.0,145.5 L86.5,146.4 L87.0,146.8 L87.5,137.1 L88.0,130.1 L88.5,132.8 L89.0,132.5 L89.5,125.9 L90.0,122.0 L90.5,121.5 L91.0,121.5 L91.5,121.5 L92.0,124.9 L92.5,130.7 L93.0,145.6 L93.5,143.8 L94.0,143.7 L94.5,142.2 L95.0,144.7 L95.5,143.8 L96.0,144.6 L96.5,151.6 L97.0,157.9 L97.5,166.8 L98.0,161.2 L98.5,151.7 L99.0,142.4 L99.5,139.8 L100.0,135.8 L100.5,133.3 L101.0,133.3 L101.5,135.2 L102.0,139.7 L102.5,142.7 L103.0,142.6 L103.5,147.7 L104.0,147.2 L104.5,148.3 L105.0,150.8 L105.5,147.2 L106.0,143.1 L106.5,148.4 L107.0,147.5 L107.5,152.5 L108.0,152.7 L108.5,154.8 L109.0,155.5 L109.5,149.1 L110.0,153.6 L110.5,152.5 L111.0,152.2 L111.5,153.2 L112.0,156.7 L112.5,158.8 L113.0,160.3 L113.5,154.4 L114.0,154.6 L114.5,152.5 L115.0,155.3 L115.5,158.4 L116.0,156.5 L116.5,158.3 L117.0,162.8 L117.5,171.3 L118.0,170.2 L118.5,170.0 L119.0,171.2 L119.5,182.7 L120.0,186.0 L120.5,183.0 L121.0,183.6 L121.5,183.9 L122.0,185.0 L122.5,184.6 L123.0,184.6 L123.5,181.6 L124.0,183.3 L124.5,193.7 L125.0,194.0 L125.5,189.9 L126.0,185.7 L126.5,183.8 L127.0,182.8 L127.5,178.2 L128.0,178.8 L128.5,178.5 L129.0,173.8 L129.5,171.5 L130.0,169.4 L130.5,167.9 L131.0,174.6 L131.5,165.9 L132.0,168.6 L132.5,168.9 L133.0,169.4 L133.5,172.8 L134.0,178.6 L134.5,179.4 L135.0,181.7 L135.5,183.0 L136.0,187.6 L136.5,192.8 L137.0,185.8 L137.5,177.6 L138.0,171.3 L138.5,168.2 L139.0,170.2 L139.5,181.2 L140.0,184.5 L140.5,185.0 L141.0,193.1 L141.5,189.0 L142.0,190.7 L142.5,190.9 L143.0,181.1 L143.5,176.0 L144.0,175.4 L144.5,181.6 L145.0,185.2 L145.5,176.3 L146.0,180.4 L146.5,176.0 L147.0,173.2 L147.5,170.7 L148.0,171.9 L148.5,168.1 L149.0,169.9 L149.5,171.0 L150.0,178.7 L150.5,189.2 L151.0,190.4 L151.5,185.3 L152.0,177.8 L152.5,179.9 L153.0,179.0 L153.5,190.4 L154.0,190.6 L154.5,186.7 L155.0,192.3 L155.5,194.0 L156.0,187.2 L156.5,189.2 L157.0,188.8 L157.5,188.6 L158.0,188.0 L158.5,184.9 L159.0,184.5 L159.5,182.3 L160.0,181.6 L160.5,187.1 L161.0,186.9 L161.5,187.1 L162.0,182.4 L162.5,183.9 L163.0,187.2 L163.5,183.8 L164.0,188.2 L164.5,186.8 L165.0,188.2 L165.5,187.9 L166.0,188.9 L166.5,192.0 L167.0,189.8 L167.5,193.8 L168.0,190.3 L168.5,188.6 L169.0,192.1 L169.5,189.7 L170.0,190.5 L170.5,194.2 L171.0,196.9 L171.5,191.1 L172.0,193.9 L172.5,198.6 L173.0,199.0 L173.5,196.0 L174.0,193.8 L174.5,193.7 L175.0,191.6 L175.5,192.9 L176.0,193.8 L176.5,194.8 L177.0,198.8 L177.5,197.6 L178.0,194.5 L178.5,199.4 L179.0,197.0 L179.5,197.7 L180.0,199.2 L180.5,199.7 L181.0,199.2 L181.5,201.8 L182.0,209.6 L182.5,207.3 L183.0,208.3 L183.5,212.5 L184.0,213.7 L184.5,214.4 L185.0,215.2 L185.5,209.1 L186.0,209.3 L186.5,212.0 L187.0,214.4 L187.5,217.6 L188.0,217.3 L188.5,216.3 L189.0,217.9 L189.5,218.9 L190.0,221.5 L190.5,224.6 L191.0,224.6 L191.5,224.0 L192.0,223.5 L192.5,228.2 L193.0,231.0 L193.5,231.8 L194.0,232.2 L194.5,232.8 L195.0,232.5 L195.5,235.0 L196.0,233.0 L196.5,235.1 L197.0,235.7 L197.5,240.2 L198.0,238.6 L198.5,239.2 L199.0,240.8 L199.5,243.9 L200.0,240.4 L200.5,238.5 L201.0,240.3 L201.5,235.6 L202.0,236.4 L202.5,233.5 L203.0,232.5 L203.5,227.1 L204.0,229.8 L204.5,227.2 L205.0,224.2 L205.5,229.1 L206.0,227.1 L206.5,226.9 L207.0,227.1 L207.5,227.2 L208.0,229.8 L208.5,236.1 L209.0,236.4 L209.5,239.2 L210.0,241.4 L210.5,239.8 L211.0,242.6 L211.5,243.3 L212.0,242.8 L212.5,248.6 L213.0,251.6 L213.5,252.3 L214.0,251.2 L214.5,249.7 L215.0,255.0 L215.5,256.9 L216.0,254.8 L216.5,257.2 L217.0,252.6 L217.5,253.0 L218.0,252.4 L218.5,251.5 L219.0,250.8 L219.5,250.6 L220.0,247.3 L220.5,247.5 L221.0,247.2 L221.5,247.6 L222.0,248.9 L222.5,250.2 L223.0,253.2 L223.5,244.8 L224.0,249.0 L224.5,250.0 L225.0,256.6 L225.5,257.2 L226.0,251.8 L226.5,254.8 L227.0,254.1 L227.5,257.8 L228.0,254.9 L228.5,256.2 L229.0,257.0 L229.5,257.8 L230.0,257.3 L230.5,254.8 L231.0,258.6 L231.5,259.5 L232.0,256.1 L232.5,251.2 L233.0,250.8 L233.5,250.2 L234.0,247.1 L234.5,243.7 L235.0,243.7 L235.5,235.9 L236.0,237.9 L236.5,237.6 L237.0,241.3 L237.5,244.3 L238.0,246.6 L238.5,249.7 L239.0,256.7 L239.5,255.5 L240.0,255.7 L240.5,261.2 L241.0,259.2 L241.5,254.8 L242.0,258.4 L242.5,257.3 L243.0,263.3 L243.5,260.4 L244.0,261.8 L244.5,260.9 L245.0,265.6 L245.5,266.0 L246.0,269.4 L246.5,270.2 L247.0,270.3 L247.5,274.3 L248.0,276.5 L248.5,275.7 L249.0,271.3 L249.5,267.5 L250.0,267.9 L250.5,271.7 L251.0,265.8 L251.5,261.1 L252.0,258.2 L252.5,254.8 L253.0,252.5 L253.5,252.4 L254.0,257.0 L254.5,257.7 L255.0,257.9 L255.5,256.4 L256.0,261.5 L256.5,264.3 L257.0,261.8 L257.5,258.3 L258.0,257.9 L258.5,258.9 L259.0,257.9 L259.5,259.2 L260.0,259.5 L260.5,262.4 L261.0,264.0 L261.5,270.4 L262.0,265.3 L262.5,265.2 L263.0,269.6 L263.5,268.0 L264.0,271.8 L264.5,270.1 L265.0,270.1 L265.5,269.0 L266.0,266.4 L266.5,267.1 L267.0,276.1 L267.5,276.7 L268.0,277.5 L268.5,279.4 L269.0,279.8 L269.5,281.8 L270.0,280.0 L270.5,280.0 L271.0,281.2 L271.5,277.6 L272.0,272.8 L272.5,272.7 L273.0,271.2 L273.5,272.7 L274.0,271.9 L274.5,272.0 L275.0,275.0 L275.5,282.2 L276.0,282.4 L276.5,284.1 L277.0,285.2 L277.5,287.2 L278.0,290.5 L278.5,293.9 L279.0,288.6 L279.5,294.6 L280.0,293.9 L280.5,292.7 L281.0,298.2 L281.5,295.1 L282.0,298.5 L282.5,298.3 L283.0,293.3 L283.5,295.0 L284.0,296.4 L284.5,294.5 L285.0,288.0 L285.5,289.2 L286.0,289.7 L286.5,287.2 L287.0,293.1 L287.5,289.6 L288.0,286.1 L288.5,283.5 L289.0,280.0 L289.5,277.3 L290.0,280.4 L290.5,285.4 L291.0,287.4 L291.5,291.3 L292.0,290.9 L292.5,295.5 L293.0,295.1 L293.5,298.0 L294.0,297.1 L294.5,298.4 L295.0,301.4 L295.5,299.1 L296.0,307.6 L296.5,305.4 L297.0,304.6 L297.5,302.9 L298.0,308.2 L298.5,310.4 L299.0,308.9 L299.5,304.3 L300.0,305.4 L300.5,309.3 L301.0,308.9 L301.5,307.7 L302.0,307.8 L302.5,309.5 L303.0,313.0 L303.5,313.5 L304.0,316.1 L304.5,323.6 L305.0,325.1 L305.5,321.2 L306.0,323.7 L306.5,325.0 L307.0,325.8 L307.5,329.8 L308.0,328.8 L308.5,329.1 L309.0,329.8 L309.5,331.5 L310.0,335.5 L310.5,335.5 L311.0,328.8 L311.5,328.3 L312.0,326.7 L312.5,330.8 L313.0,330.6 L313.5,332.5 L314.0,330.6 L314.5,324.0 L315.0,328.3 L315.5,329.6 L316.0,331.0 L316.5,322.4 L317.0,318.3 L317.5,310.7 L318.0,303.9 L318.5,300.7 L319.0,305.1 L319.5,307.1 L320.0,308.6 L320.5,313.9 L321.0,318.9 L321.5,325.3 L322.0,324.9 L322.5,318.7 L323.0,320.0 L323.5,324.8 L324.0,330.7 L324.5,331.4 L325.0,329.0 L325.5,327.2 L326.0,322.3 L326.5,321.8 L327.0,321.7 L327.5,320.1 L328.0,323.0 L328.5,325.3 L329.0,330.1 L329.5,337.1 L330.0,339.7 L330.5,341.3 L331.0,341.6 L331.5,338.3 L332.0,338.4 L332.5,339.4 L333.0,334.0 L333.5,337.5 L334.0,333.1 L334.5,332.2 L335.0,330.0 L335.5,324.8 L336.0,331.5 L336.5,323.6 L337.0,325.4 L337.5,320.6 L338.0,318.7 L338.5,310.8 L339.0,305.6 L339.5,306.2 L340.0,307.9 L340.5,299.4 L341.0,296.7 L341.5,296.5 L342.0,289.4 L342.5,288.4 L343.0,281.5 L343.5,283.8 L344.0,288.7 L344.5,295.6 L345.0,298.4 L345.5,295.3 L346.0,298.0 L346.5,293.6 L347.0,297.0 L347.5,301.3 L348.0,303.6 L348.5,302.8 L349.0,309.7 L349.5,311.3 L350.0,307.0 L350.5,304.2 L351.0,306.7 L351.5,300.8 L352.0,297.6 L352.5,292.9 L353.0,284.7 L353.5,282.9 L354.0,288.9 L354.5,292.6 L355.0,294.6 L355.5,291.5 L356.0,299.7 L356.5,302.3 L357.0,305.0 L357.5,307.6 L358.0,303.9 L358.5,302.3 L359.0,304.9 L359.5,310.6 L360.0,304.3 L360.5,305.5 L361.0,305.3 L361.5,308.9 L362.0,314.0 L362.5,313.4 L363.0,311.9 L363.5,315.7 L364.0,315.1 L364.5,309.6 L365.0,312.0 L365.5,308.3 L366.0,308.5 L366.5,305.5 L367.0,313.0 L367.5,311.7 L368.0,317.2 L368.5,310.3 L369.0,314.4 L369.5,310.9 L370.0,305.5 L370.5,306.7 L371.0,309.3 L371.5,307.3 L372.0,307.9 L372.5,310.3 L373.0,310.4 L373.5,306.0 L374.0,307.6 L374.5,310.6 L375.0,311.6 L375.5,313.8 L376.0,310.5 L376.5,315.7 L377.0,314.6 L377.5,312.7 L378.0,313.6 L378.5,313.4 L379.0,311.0 L379.5,309.7 L380.0,314.1 L380.5,315.3 L381.0,310.8 L381.5,311.6 L382.0,316.8 L382.5,319.0 L383.0,321.3 L383.5,324.1 L384.0,326.9 L384.5,333.7 L385.0,333.2 L385.5,332.2 L386.0,331.6 L386.5,331.4 L387.0,330.4 L387.5,330.7 L388.0,325.8 L388.5,327.4 L389.0,325.9 L389.5,321.0 L390.0,320.7 L390.5,325.9 L391.0,324.9 L391.5,321.0 L392.0,315.0 L392.5,315.5 L393.0,315.7 L393.5,317.8 L394.0,324.7 L394.5,324.3 L395.0,323.2 L395.5,319.8 L396.0,316.9 L396.5,316.2 L397.0,314.1 L397.5,320.1 L398.0,318.6 L398.5,318.6 L399.0,324.3 L399.5,325.5 L400.0,323.6 L400.5,330.2 L401.0,330.2 L401.5,328.7 L402.0,332.5 L402.5,332.4 L403.0,329.3 L403.5,329.6 L404.0,329.0 L404.5,323.6 L405.0,317.8 L405.5,316.2 L406.0,317.0 L406.5,319.8 L407.0,319.6 L407.5,323.6 L408.0,328.5 L408.5,330.7 L409.0,333.8 L409.5,327.4 L410.0,329.8 L410.5,329.8 L411.0,327.4 L411.5,324.1 L412.0,319.8 L412.5,319.9 L413.0,323.0 L413.5,320.8 L414.0,322.2 L414.5,319.9 L415.0,321.2 L415.5,318.6 L416.0,320.3 L416.5,319.2 L417.0,319.7 L417.5,317.2 L418.0,311.7 L418.5,305.6 L419.0,302.4 L419.5,307.8 L420.0,309.1 L420.5,315.0 L421.0,319.6 L421.5,320.9 L422.0,317.8 L422.5,322.2 L423.0,322.1 L423.5,322.7 L424.0,319.8 L424.5,316.5 L425.0,307.0 L425.5,309.8 L426.0,310.3 L426.5,304.8 L427.0,307.0 L427.5,304.9 L428.0,302.5 L428.5,301.6 L429.0,301.4 L429.5,303.6 L430.0,312.7 L430.5,316.4 L431.0,322.5 L431.5,321.4 L432.0,320.3 L432.5,319.9 L433.0,318.9 L433.5,322.9 L434.0,321.9 L434.5,323.6 L435.0,318.6 L435.5,321.0 L436.0,319.1 L436.5,318.2 L437.0,313.7 L437.5,307.9 L438.0,310.3 L438.5,311.9 L439.0,315.4 L439.5,316.9 L440.0,321.6 L440.5,323.9 L441.0,327.0 L441.5,324.2 L442.0,318.4 L442.5,312.0 L443.0,312.4 L443.5,313.1 L444.0,311.8 L444.5,305.4 L445.0,306.4 L445.5,306.4 L446.0,305.8 L446.5,305.6 L447.0,303.3 L447.5,303.3 L448.0,303.3 L448.5,298.6 L449.0,293.0 L449.5,292.8 L450.0,293.3 L450.5,291.9 L451.0,295.9 L451.5,302.5 L452.0,302.6 L452.5,303.5 L453.0,300.6 L453.5,304.9 L454.0,309.2 L454.5,306.4 L455.0,304.8 L455.5,303.8 L456.0,309.2 L456.5,310.4 L457.0,309.4 L457.5,310.9 L458.0,308.1 L458.5,304.5 L459.0,298.7 L459.5,302.9 L460.0,308.1 L460.5,307.2 L461.0,312.3 L461.5,315.6 L462.0,316.3 L462.5,312.3 L463.0,310.8 L463.5,314.4 L464.0,316.3 L464.5,317.8 L465.0,318.4 L465.5,315.6 L466.0,313.6 L466.5,309.1 L467.0,313.9 L467.5,319.3 L468.0,315.5 L468.5,313.9 L469.0,316.1 L469.5,316.5 L470.0,312.6 L470.5,313.8 L471.0,314.2 L471.5,323.1 L472.0,321.0 L472.5,323.9 L473.0,324.0 L473.5,321.0 L474.0,318.0 L474.5,317.7 L475.0,311.5 L475.5,310.8 L476.0,309.3 L476.5,309.6 L477.0,316.1 L477.5,309.2 L478.0,311.8 L478.5,308.6 L479.0,313.7 L479.5,316.0 L480.0,312.5 L480.5,316.9 L481.0,314.2 L481.5,316.0 L482.0,314.2 L482.5,311.1 L483.0,310.0 L483.5,310.5 L484.0,313.0 L484.5,313.1 L485.0,317.8 L485.5,315.0 L486.0,313.3 L486.5,312.2 L487.0,311.6 L487.5,309.9 L488.0,310.5 L488.5,315.7 L489.0,316.1 L489.5,316.0 L490.0,317.5 L490.5,320.3 L491.0,320.7 L491.5,321.5 L492.0,318.8 L492.5,318.2 L493.0,315.4 L493.5,315.2 L494.0,312.6 L494.5,311.9 L495.0,312.6 L495.5,312.8 L496.0,312.8 L496.5,312.2 L497.0,316.5 L497.5,314.3 L498.0,311.2 L498.5,312.7 L499.0,310.0 L499.5,308.6 L500.0,310.8 L500.5,307.1 L501.0,305.7 L501.5,307.6 L502.0,309.5 L502.5,302.7 L503.0,300.7 L503.5,302.3 L504.0,295.5 L504.5,294.0 L505.0,291.4 L505.5,291.6 L506.0,288.0 L506.5,292.1 L507.0,290.9 L507.5,291.0 L508.0,289.0 L508.5,283.8 L509.0,285.4 L509.5,283.0 L510.0,286.1 L510.5,285.5 L511.0,286.9 L511.5,288.2 L512.0,292.2 L512.5,294.7 L513.0,292.0 L513.5,293.9 L514.0,299.4 L514.5,301.1 L515.0,300.1 L515.5,302.4 L516.0,303.9 L516.5,307.9 L517.0,308.0 L517.5,309.4 L518.0,314.3 L518.5,309.6 L519.0,309.3 L519.5,308.9 L520.0,310.5 L520.5,315.4 L521.0,316.2 L521.5,319.9 L522.0,312.4 L522.5,311.9 L523.0,317.4 L523.5,318.8 L524.0,318.9 L524.5,318.8 L525.0,316.6 L525.5,315.4 L526.0,314.9 L526.5,317.4 L527.0,316.5 L527.5,317.8 L528.0,321.7 L528.5,317.4 L529.0,316.8 L529.5,321.2 L530.0,322.5 L530.5,324.5 L531.0,332.3 L531.5,329.6 L532.0,323.7 L532.5,323.3 L533.0,322.3 L533.5,318.0 L534.0,324.1 L534.5,329.2 L535.0,325.9 L535.5,330.4 L536.0,327.2 L536.5,323.3 L537.0,324.5 L537.5,322.0 L538.0,321.6 L538.5,323.3 L539.0,329.4 L539.5,321.5 L540.0,325.8 L540.5,330.8 L541.0,332.3 L541.5,335.4 L542.0,334.8 L542.5,332.8 L543.0,330.8 L543.5,327.9 L544.0,332.5 L544.5,327.2 L545.0,327.5 L545.5,326.6 L546.0,325.4 L546.5,323.0 L547.0,324.7 L547.5,326.6 L548.0,327.8 L548.5,330.4 L549.0,329.2 L549.5,327.6 L550.0,329.5 L550.5,331.4 L551.0,329.0 L551.5,327.0 L552.0,327.9 L552.5,334.1 L553.0,337.3 L553.5,334.5 L554.0,336.3 L554.5,339.5 L555.0,342.7 L555.5,339.7 L556.0,339.9 L556.5,344.7 L557.0,347.7 L557.5,349.4 L558.0,345.4 L558.5,348.5 L559.0,347.1 L559.5,344.2 L560.0,339.6 L560.5,337.4 L561.0,340.8 L561.5,348.6 L562.0,350.3 L562.5,351.4 L563.0,351.9 L563.5,350.2 L564.0,351.6 L564.5,357.0 L565.0,358.9 L565.5,362.4 L566.0,362.6 L566.5,363.2 L567.0,360.4 L567.5,360.1 L568.0,352.1 L568.5,355.7 L569.0,349.3 L569.5,349.0 L570.0,344.6 L570.5,344.6 L571.0,342.9 L571.5,347.5 L572.0,345.2 L572.5,338.9 L573.0,333.8 L573.5,334.5 L574.0,337.2 L574.5,338.1 L575.0,344.7 L575.5,346.9 L576.0,348.3 L576.5,346.8 L577.0,346.3 L577.5,346.5 L578.0,343.5 L578.5,348.5 L579.0,350.3 L579.5,345.2 L580.0,348.2 L580.5,352.6 L581.0,352.7 L581.5,356.5 L582.0,354.5 L582.5,355.0 L583.0,352.2 L583.5,352.6 L584.0,351.9 L584.5,353.2 L585.0,357.5 L585.5,360.7 L586.0,364.3 L586.5,363.6 L587.0,360.9 L587.5,364.3 L588.0,364.8 L588.5,371.1 L589.0,373.0 L589.5,373.7 L590.0,369.7 L590.5,370.8 L591.0,374.4 L591.5,374.6 L592.0,376.6 L592.5,377.6 L593.0,378.1 L593.5,379.1 L594.0,378.4 L594.5,379.7 L595.0,383.9 L595.5,388.7 L596.0,389.7 L596.5,387.7 L597.0,384.2 L597.5,382.5 L598.0,380.5 L598.5,379.3 L599.0,376.0 L599.5,366.3 L600.0,367.5 L600.5,371.4 L601.0,374.6 L601.5,381.9 L602.0,390.5 L602.5,400.1 L603.0,396.9 L603.5,395.6 L604.0,394.1 L604.5,389.5 L605.0,382.6 L605.5,386.2 L606.0,388.6 L606.5,388.2 L607.0,388.7 L607.5,386.7 L608.0,384.1 L608.5,384.5 L609.0,381.1 L609.5,379.9 L610.0,384.0 L610.5,385.1 L611.0,385.2 L611.5,381.5 L612.0,385.2 L612.5,386.9 L613.0,383.0 L613.5,381.9 L614.0,376.4 L614.5,379.9 L615.0,377.7 L615.5,380.6 L616.0,383.7 L616.5,380.7 L617.0,382.5 L617.5,381.1 L618.0,378.6 L618.5,376.5 L619.0,373.4 L619.5,377.4 L620.0,377.5 L620.5,369.9 L621.0,369.6 L621.5,363.3 L622.0,360.3 L622.5,369.5 L623.0,368.4 L623.5,376.6 L624.0,377.0 L624.5,376.3 L625.0,373.5 L625.5,372.8 L626.0,371.1 L626.5,374.4 L627.0,376.8 L627.5,381.2 L628.0,379.2 L628.5,382.9 L629.0,386.6 L629.5,384.5 L630.0,385.4 L630.5,383.7 L631.0,384.0 L631.5,386.2 L632.0,386.1 L632.5,384.9 L633.0,387.2 L633.5,389.4 L634.0,391.2 L634.5,393.7 L635.0,388.8 L635.5,396.2 L636.0,395.9 L636.5,394.6 L637.0,394.7 L637.5,397.1 L638.0,399.4 L638.5,397.1 L639.0,397.5 L639.5,392.9 L640.0,395.3 L640.5,395.4 L641.0,394.3 L641.5,397.5 L642.0,401.1 L642.5,400.9 L643.0,395.6 L643.5,400.2 L644.0,396.8 L644.5,396.3 L645.0,394.6 L645.5,396.7 L646.0,398.0 L646.5,397.4 L647.0,396.1 L647.5,395.7 L648.0,394.8 L648.5,398.6 L649.0,396.0 L649.5,396.0 L650.0,396.0 L650.5,394.4 L651.0,395.1 L651.5,391.6 L652.0,395.4 L652.5,397.3 L653.0,395.5 L653.5,399.6 L654.0,394.2 L654.5,395.4 L655.0,395.4 L655.5,392.8 L656.0,393.0 L656.5,396.7 L657.0,396.3 L657.5,397.0 L658.0,400.7 L658.5,398.3 L659.0,391.4 L659.5,390.8 L660.0,394.8 L660.5,393.5 L661.0,389.9 L661.5,387.6 L662.0,392.1 L662.5,397.8 L663.0,392.5 L663.5,390.3 L664.0,396.7 L664.5,397.5 L665.0,399.5 L665.5,400.7 L666.0,399.8 L666.5,403.8 L667.0,407.4 L667.5,407.9 L668.0,405.8 L668.5,410.0 L669.0,409.0 L669.5,411.1 L670.0,408.0 L670.5,411.8 L671.0,414.2 L671.5,417.2 L672.0,415.2 L672.5,415.9 L673.0,413.6 L673.5,417.2 L674.0,418.9 L674.5,420.8 L675.0,417.6 L675.5,414.0 L676.0,416.0 L676.5,416.8 L677.0,415.8 L677.5,419.6 L678.0,424.1 L678.5,425.5 L679.0,429.4 L679.5,430.1 L680.0,427.5 L680.5,428.6 L681.0,427.1 L681.5,428.5 L682.0,428.9 L682.5,425.8 L683.0,426.1 L683.5,419.9 L684.0,419.2 L684.5,423.4 L685.0,421.9 L685.5,422.8 L686.0,414.3 L686.5,411.4 L687.0,408.8 L687.5,409.4 L688.0,408.6 L688.5,405.9 L689.0,406.5 L689.5,408.6 L690.0,411.9 L690.5,416.4 L691.0,415.4 L691.5,421.0 L692.0,420.0 L692.5,415.3 L693.0,415.9 L693.5,415.4 L694.0,418.1 L694.5,419.8 L695.0,417.2 L695.5,419.7 L696.0,420.1 L696.5,418.6 L697.0,419.1 L697.5,420.7 L698.0,418.7 L698.5,417.0 L699.0,422.0 L699.5,420.8 L700.0,419.1 L700.5,420.9 L701.0,417.5 L701.5,419.6 L702.0,417.5 L702.5,419.1 L703.0,417.5 L703.5,418.9 L704.0,423.5 L704.5,423.4 L705.0,421.2 L705.5,427.3 L706.0,424.9 L706.5,428.9 L707.0,426.5 L707.5,423.5 L708.0,430.0 L708.5,427.6 L709.0,429.2 L709.5,430.9 L710.0,425.9 L710.5,426.9 L711.0,425.8 L711.5,428.2 L712.0,428.0 L712.5,425.2 L713.0,427.0 L713.5,429.6 L714.0,428.2 L714.5,428.9 L715.0,426.3 L715.5,425.9 L716.0,426.3 L716.5,425.6 L717.0,427.3 L717.5,426.9 L718.0,426.1 L718.5,424.9 L719.0,422.7 L719.5,418.1 L720.0,420.2 L720.5,421.9 L721.0,418.5 L721.5,415.1 L722.0,414.7 L722.5,419.5 L723.0,420.7 L723.5,419.6 L724.0,421.6 L724.5,421.4 L725.0,423.1 L725.5,422.9 L726.0,423.1 L726.5,427.8 L727.0,428.7 L727.5,422.8 L728.0,421.4 L728.5,421.8 L729.0,421.6 L729.5,418.9 L730.0,422.5 L730.5,418.1 L731.0,421.0 L731.5,421.9 L732.0,419.8 L732.5,418.1 L733.0,418.7 L733.5,419.0 L734.0,413.9 L734.5,413.6 L735.0,417.1 L735.5,417.2 L736.0,416.5 L736.5,414.7 L737.0,414.5 L737.5,414.2 L738.0,421.8 L738.5,416.6 L739.0,420.7 L739.5,420.2 L740.0,419.5 L740.5,419.2 L741.0,417.9 L741.5,422.1 L742.0,421.7 L742.5,420.4 L743.0,419.9 L743.5,420.5 L744.0,417.9 L744.5,418.2 L745.0,417.6 L745.5,420.1 L746.0,421.0 L746.5,415.7 L747.0,417.1 L747.5,420.6 L748.0,417.2 L748.5,416.0 L749.0,420.5 L749.5,420.0 L750.0,419.2 L750.5,417.8 L751.0,420.7 L751.5,420.8 L752.0,423.0 L752.5,424.9 L753.0,426.9 L753.5,424.9 L754.0,423.4 L754.5,423.8 L755.0,423.5 L755.5,423.8 L756.0,422.2 L756.5,421.7 L757.0,420.4 L757.5,419.5 L758.0,420.5 L758.5,422.9 L759.0,418.6 L759.5,416.4 L760.0,412.9 L760.5,408.7 L761.0,409.4 L761.5,411.5 L762.0,417.5 L762.5,422.0 L763.0,419.3 L763.5,421.0 L764.0,421.4 L764.5,423.5 L765.0,416.8 L765.5,416.0 L766.0,416.3 L766.5,413.1 L767.0,416.3 L767.5,415.8 L768.0,412.5 L768.5,409.8 L769.0,410.3 L769.5,416.6 L770.0,416.6 L770.5,408.1 L771.0,406.6 L771.5,410.5 L772.0,410.7 L772.5,409.7 L773.0,412.2 L773.5,412.2 L774.0,412.7 L774.5,413.0 L775.0,409.7 L775.5,413.4 L776.0,410.9 L776.5,413.2 L777.0,413.1 L777.5,411.3 L778.0,410.7 L778.5,409.9 L779.0,405.4 L779.5,406.7 L780.0,409.0 L780.5,405.2 L781.0,404.5 L781.5,409.9 L782.0,411.9 L782.5,407.6 L783.0,410.4 L783.5,410.7 L784.0,413.1 L784.5,411.0 L785.0,410.2 L785.5,408.5 L786.0,409.8 L786.5,409.5 L787.0,407.9 L787.5,407.4 L788.0,405.9 L788.5,408.0 L789.0,404.8 L789.5,401.8 L790.0,401.7 L790.5,406.7 L791.0,405.4 L791.5,407.5 L792.0,408.8 L792.5,406.6 L793.0,408.5 L793.5,408.3 L794.0,406.8 L794.5,404.7 L795.0,405.7 L795.5,403.5 L796.0,405.1 L796.5,405.3 L797.0,407.9 L797.5,409.0 L798.0,407.5 L798.5,410.4 L799.0,412.7 L799.5,411.3 L800.0,409.5 L800.5,411.5 L801.0,408.5 L801.5,410.4 L802.0,413.7 L802.5,417.7 L803.0,415.2 L803.5,418.1 L804.0,419.3 L804.5,419.8 L805.0,414.5 L805.5,418.2 L806.0,418.6 L806.5,420.4 L807.0,419.6 L807.5,418.7 L808.0,419.3 L808.5,422.8 L809.0,423.6 L809.5,422.5 L810.0,423.4 L810.5,425.0 L811.0,425.6 L811.5,425.2 L812.0,424.4 L812.5,424.3 L813.0,425.1 L813.5,425.7 L814.0,424.6 L814.5,425.0 L815.0,428.5 L815.5,426.8 L816.0,425.9 L816.5,427.7 L817.0,431.0 L817.5,432.3 L818.0,430.2 L818.5,428.3 L819.0,428.4 L819.5,427.9 L820.0,428.3 L820.5,430.4 L821.0,428.7 L821.5,428.5 L822.0,429.3 L822.5,430.1 L823.0,429.3 L823.5,429.0 L824.0,427.3 L824.5,426.7 L825.0,428.0 L825.5,426.8 L826.0,423.1 L826.5,427.5 L827.0,427.5 L827.5,429.4 L828.0,433.1 L828.5,433.5 L829.0,435.1 L829.5,440.0 L830.0,443.3 L830.5,443.6 L831.0,441.3 L831.5,441.5 L832.0,442.9 L832.5,441.0 L833.0,444.7 L833.5,443.0 L834.0,444.1 L834.5,442.7 L835.0,444.6 L835.5,445.2 L836.0,447.4 L836.5,445.5 L837.0,446.6 L837.5,450.0 L838.0,447.4 L838.5,448.6 L839.0,449.5 L839.5,448.8 L840.0,449.0 L840.5,451.7 L841.0,452.7 L841.5,452.6 L842.0,452.3 L842.5,450.2 L843.0,451.1 L843.5,454.2 L844.0,454.6 L844.5,451.5 L845.0,461.0 L845.5,450.1 L846.0,451.5 L846.5,451.0 L847.0,451.0 L847.5,452.0 L848.0,453.2 L848.5,452.7 L849.0,453.9 L849.5,450.5 L850.0,451.7 L850.5,452.3 L851.0,449.8 L851.5,452.7 L852.0,450.0 L852.5,449.0 L853.0,454.6 L853.5,455.1 L854.0,454.2 L854.5,455.3 L855.0,455.6 L855.5,452.5 L856.0,453.6 L856.5,455.6 L857.0,454.3 L857.5,454.3 L858.0,462.5 L858.5,454.3 L859.0,452.5 L859.5,451.4 L860.0,449.7 L860.5,448.8 L861.0,449.6 L861.5,449.9 L862.0,448.3 L862.5,446.1 L863.0,446.7 L863.5,446.4 L864.0,447.0 L864.5,444.2 L865.0,442.5 L865.5,442.5 L866.0,432.5 L866.5,442.5 L867.0,442.3 L867.5,441.3 L868.0,441.5 L868.5,443.6 L869.0,444.4 L869.5,445.3 L870.0,441.7 L870.5,443.5 L871.0,441.8 L871.5,443.1 L872.0,439.8 L872.5,441.1 L873.0,440.6 L873.5,443.4 L874.0,443.0 L874.5,444.4 L875.0,442.5 L875.5,445.0 L876.0,442.7 L876.5,445.0 L877.0,442.8 L877.5,441.1 L878.0,443.1 L878.5,442.2 L879.0,442.3 L879.5,440.3 L880.0,440.7 L880.5,441.5 L881.0,440.6 L881.5,441.7 L882.0,438.6 L882.5,441.6 L883.0,441.1 L883.5,443.6 L884.0,442.2 L884.5,441.1 L885.0,441.0 L885.5,441.8 L886.0,442.5 L886.5,441.2 L887.0,440.0 L887.5,441.2 L888.0,442.2 L888.5,438.6 L889.0,434.0 L889.5,438.4 L890.0,442.8 L890.5,444.5 L891.0,444.6 L891.5,444.4 L892.0,442.2 L892.5,444.8 L893.0,443.9" fill="none" stroke="#0a8efb" stroke-width="3.5" stroke-linejoin="miter" stroke-miterlimit="4.5" stroke-linecap="butt"/>
  <!-- price line dotted -->
  <path d="M0,448.5H840" stroke="#0a8efb" stroke-width="1.1" stroke-dasharray="1.2,0.8"/>
  <!-- crosshair -->
  <g stroke="#6e7a8a" stroke-width="1" shape-rendering="crispEdges">
    <path d="M117.5,62V496" stroke-dasharray="5,6"/>
    <path d="M0,161.5H882" stroke-dasharray="5,6" stroke-dashoffset="1"/>
  </g>
  <!-- axes -->
  <g stroke="#4a4e5a" stroke-width="1" shape-rendering="crispEdges">
    <path d="M899.5,62V522"/>
    <path d="M0,495.5H978"/>
    <path d="M900,102.5H904 M900,146.5H904 M900,191.5H904 M900,236.5H904 M900,280.5H904 M900,325.5H904 M900,370.5H904 M900,414.5H904 M900,459.5H904"/>
    <path d="M255.5,496V500 M339.5,496V500 M439.5,496V500 M535.5,496V500 M619.5,496V500 M703.5,496V500 M805.5,496V500 M889.5,496V500"/>
  </g>
  <g font-size="12" letter-spacing="-0.27" fill="#4a4e5b">
    <text x="908" y="106.0">0.00002000</text>
    <text x="908" y="150.0">0.00001800</text>
    <text x="908" y="195.0">0.00001600</text>
    <text x="908" y="240.0">0.00001400</text>
    <text x="908" y="284.0">0.00001200</text>
    <text x="908" y="329.0">0.00001000</text>
    <text x="908" y="374.0">0.00000800</text>
    <text x="908" y="418.0">0.00000600</text>
    <text x="908" y="463.0">0.00000400</text>
  </g>
  <g font-size="12" fill="#4a4e5b" text-anchor="middle">
    <text x="255" y="514.5">May</text>
    <text x="339" y="514.5">15</text>
    <text x="439" y="514.5">Jun</text>
    <text x="535" y="514.5">17</text>
    <text x="619" y="514.5">Jul</text>
    <text x="703" y="514.5">15</text>
    <text x="805" y="514.5">Aug</text>
    <text x="889" y="514.5">15</text>
  </g>
  <!-- crosshair price label -->
  <rect x="882" y="152" width="16" height="18" fill="#4c525e"/>
  <rect x="899" y="152" width="79" height="18" fill="#4c525e"/>
  <path d="M885,161.5H896 M890.5,157V167" stroke="#fff" stroke-width="1" shape-rendering="crispEdges"/>
  <path d="M900,161.5H904" stroke="#fff" stroke-width="1" shape-rendering="crispEdges"/>
  <text x="908" y="164.7" font-size="12" letter-spacing="-0.27" fill="#fff">0.00001734</text>
  <!-- crosshair time label -->
  <rect x="64" y="496" width="105" height="23" rx="2" ry="2" fill="#4c525e"/>
  <path d="M117.5,496V500" stroke="#fff" stroke-width="1" shape-rendering="crispEdges"/>
  <text x="70.1" y="511.8" font-size="12" fill="#fff" textLength="53.4" lengthAdjust="spacingAndGlyphs">08 Apr '19</text>
  <text x="133.8" y="511.8" font-size="12" fill="#fff" textLength="30.8" lengthAdjust="spacingAndGlyphs">02:00</text>
  <!-- last price labels -->
  <rect x="840" y="439" width="58" height="18" fill="#068dfc"/>
  <rect x="899" y="439" width="79" height="18" fill="#068dfc"/>
  <path d="M900,448.5H903" stroke="#fff" stroke-width="1" shape-rendering="crispEdges"/>
  <text x="848.2" y="451.7" font-size="12" fill="#fff" textLength="46.4" lengthAdjust="spacingAndGlyphs">BINANCE</text>
  <text x="908" y="451.7" font-size="12" letter-spacing="-0.27" fill="#fff">0.00000452</text>
  <rect x="919" y="458" width="59" height="17" fill="#068dfc"/>
  <text x="922.7" y="470.7" font-size="12" fill="#fff" textLength="46.5" lengthAdjust="spacingAndGlyphs">01:32:08</text>
</svg>

<!-- legend -->
<svg class="abs" style="left:0;top:62px" width="262" height="36" viewBox="0 62 262 36">
  <g font-size="16.5" fill="#4a4e5a">
    <text x="13" y="86" textLength="59.5" lengthAdjust="spacingAndGlyphs">Cardano</text>
    <text x="77.8" y="86">/</text>
    <text x="89.3" y="86" textLength="50.8" lengthAdjust="spacingAndGlyphs">Bitcoin</text>
    <text x="143.3" y="86" fill="#a9adb8">·</text>
    <text x="151.6" y="86" textLength="25.2" lengthAdjust="spacingAndGlyphs">120</text>
    <text x="181" y="86" fill="#a9adb8">·</text>
    <text x="187.9" y="86" textLength="62.6" lengthAdjust="spacingAndGlyphs">BINANCE</text>
  </g>
</svg>
<div class="lv" style="left:267.5px">0.00001686</div>
<div class="lv" style="left:344.2px">−0.00000023 (−1.35%)</div>

<!-- bottom toolbar -->
<div class="abs" style="left:0;top:522px;width:979px;height:1px;background:#e0e3eb"></div>
<div class="tb" style="left:14.1px;letter-spacing:-1.0px">1D</div>
<div class="tb" style="left:43.7px;letter-spacing:-1.1px">5D</div>
<div class="tb" style="left:73.6px;letter-spacing:-0.4px">1M</div>
<div class="tb" style="left:104.8px;letter-spacing:-0.6px">3M</div>
<div class="tb" style="left:135.3px;letter-spacing:0.0px;color:#2196f3">6M</div>
<div class="tb" style="left:167.0px;letter-spacing:-0.8px">YTD</div>
<div class="tb" style="left:205.8px;letter-spacing:-0.6px">1Y</div>
<div class="tb" style="left:235.1px;letter-spacing:-0.4px">5Y</div>
<div class="tb" style="left:264.9px;letter-spacing:0.9px">All</div>
<div class="abs" style="left:137px;top:553px;width:15px;height:2px;background:#2196f3"></div>
<div class="tb" style="left:921.3px;letter-spacing:0.0px">%</div>
<div class="tb" style="left:948.0px;letter-spacing:0.6px">log</div>
</body>
</html>
